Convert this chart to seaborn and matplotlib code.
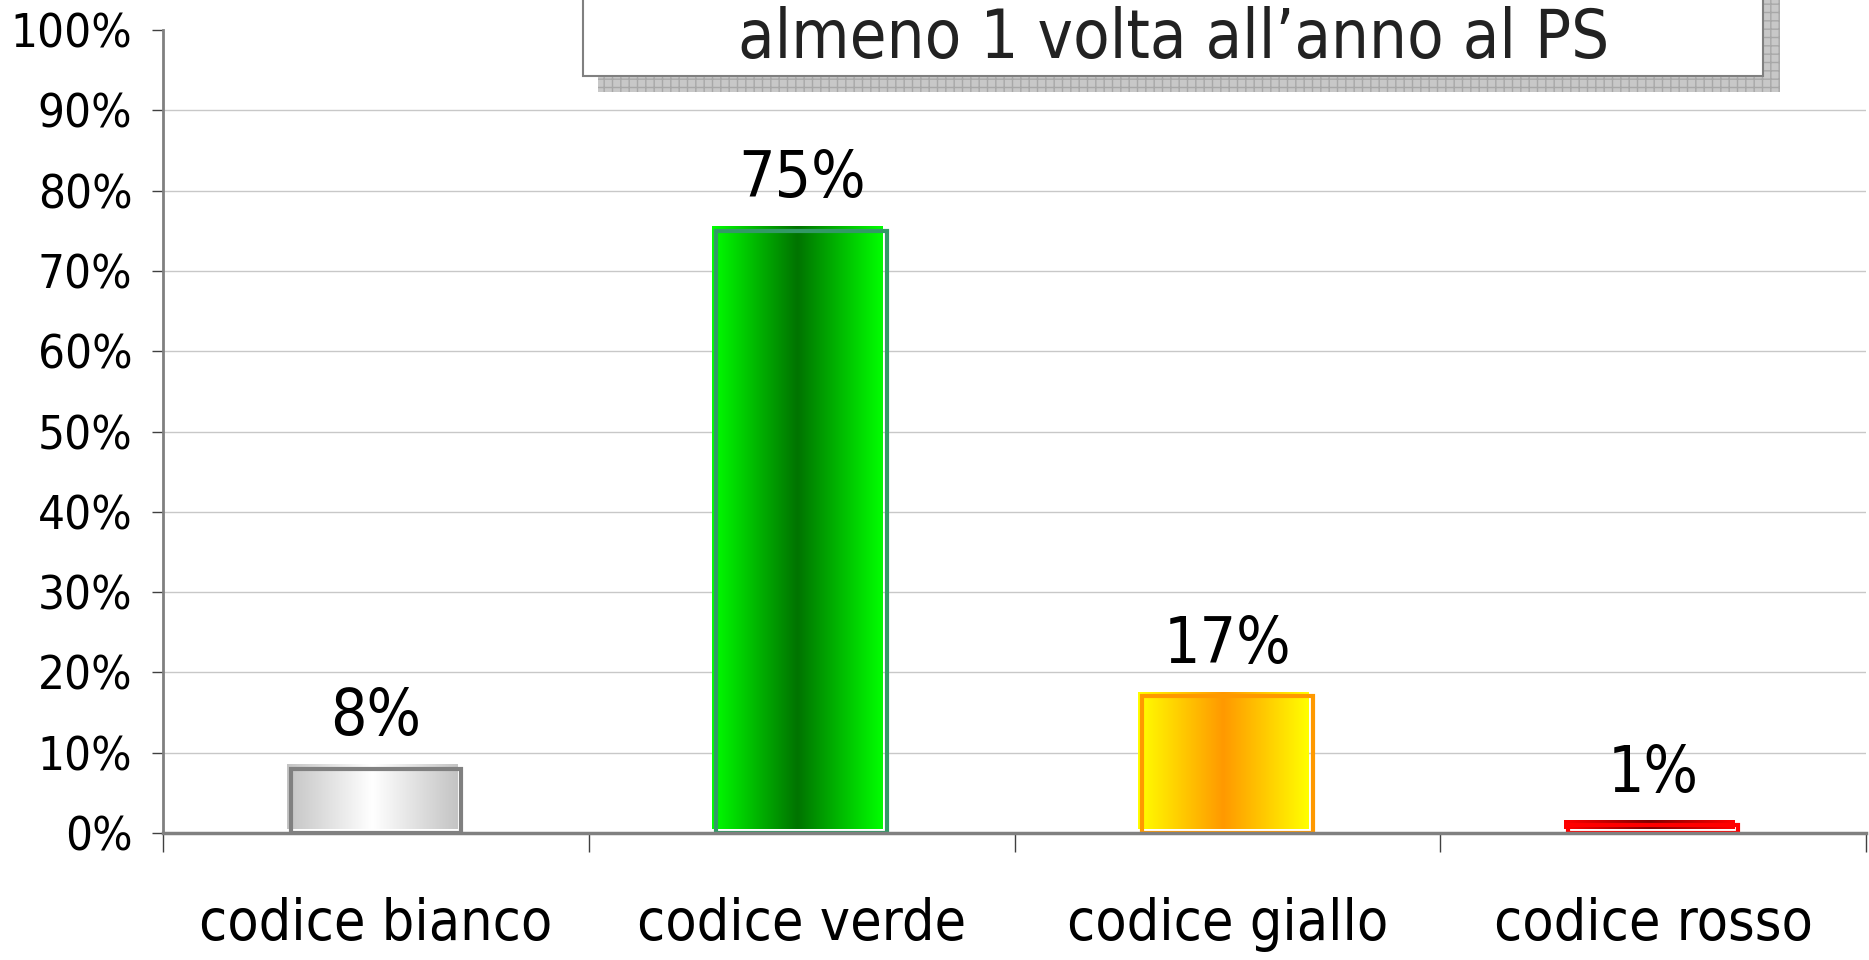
import numpy as np
import matplotlib
matplotlib.use("Agg")
import matplotlib.pyplot as plt
import matplotlib.transforms as mtransforms
from matplotlib.patches import Rectangle
from matplotlib.colors import LinearSegmentedColormap
from matplotlib.ticker import PercentFormatter, FixedLocator
import seaborn as sns

categories = ["codice bianco", "codice verde", "codice giallo", "codice rosso"]
values = [0.08, 0.75, 0.17, 0.01]
value_labels = ["8%", "75%", "17%", "1%"]
title_line = "almeno 1 volta all\u2019anno al PS"

# colori: bordo esterno, centro del gradiente, contorno
edge_colors = ["#c4c4c4", "#00ff00", "#ffff00", "#ff0000"]
center_colors = ["#ffffff", "#007400", "#ff9900", "#800000"]
outline_colors = ["#808080", "#339966", "#ff9900", "#ff0000"]

sns.set_style("white")
plt.rcParams["font.family"] = ["DejaVu Sans"]
plt.rcParams["font.stretch"] = "condensed"

fig = plt.figure(figsize=(18.69, 9.60), dpi=100)
ax = fig.add_axes([163 / 1869, 127 / 960, 1703 / 1869, 803 / 960])

sns.barplot(x=categories, y=values, hue=categories, palette=edge_colors,
            width=0.4, legend=False, ax=ax, saturation=1)

ax.set_ylim(0, 1)
ax.set_xlim(-0.5, len(categories) - 0.5)

# gradienti orizzontali dentro le barre (leggermente spostati in alto a sinistra)
shift = mtransforms.ScaledTranslation(-4 / 100, 4 / 100, fig.dpi_scale_trans)
grad = np.abs(np.linspace(-1, 1, 256))[None, :]
for patch, c_edge, c_mid, c_line in zip(ax.patches, edge_colors, center_colors, outline_colors):
    x0, w, h = patch.get_x(), patch.get_width(), patch.get_height()
    cmap = LinearSegmentedColormap.from_list("g", [c_mid, c_edge])
    im = ax.imshow(grad, cmap=cmap, aspect="auto", extent=(x0, x0 + w, 0, h),
                   interpolation="bicubic", zorder=2)
    im.set_transform(ax.transData + shift)
    patch.set_facecolor("none")
    patch.set_edgecolor(c_line)
    patch.set_linewidth(3)
    patch.set_zorder(3)

ax.set_xlim(-0.5, len(categories) - 0.5)
ax.set_ylim(0, 1)

for patch, lab in zip(ax.patches, value_labels):
    ax.annotate(lab, (patch.get_x() + patch.get_width() / 2, patch.get_height()),
                xytext=(0, 24), textcoords="offset points",
                ha="center", va="baseline", fontsize=46, color="black")

# assi
ax.yaxis.set_major_locator(FixedLocator(np.arange(0, 1.01, 0.1)))
ax.yaxis.set_major_formatter(PercentFormatter(1.0, decimals=0))
ax.tick_params(axis="y", labelsize=34, length=8, width=1, color="#404040",
               labelcolor="black", pad=14, left=True)
ax.set_xticks(range(len(categories)))
ax.set_xticklabels(categories)
ax.set_xticks(np.arange(-0.5, len(categories), 1.0), minor=True)
ax.tick_params(axis="x", which="major", length=0, labelsize=41, labelcolor="black", pad=46)
ax.tick_params(axis="x", which="minor", length=14, width=1, color="#404040", bottom=True)
ax.set_xlabel("")
ax.set_ylabel("")

ax.yaxis.grid(True, color="#c8c8c8", linewidth=1)
ax.get_ygridlines()[-1].set_visible(False)
ax.set_axisbelow(True)

for side in ["top", "right"]:
    ax.spines[side].set_visible(False)
ax.spines["left"].set_color("#808080")
ax.spines["left"].set_linewidth(2)
ax.spines["bottom"].set_color("#808080")
ax.spines["bottom"].set_linewidth(2.5)
ax.spines["bottom"].set_zorder(4)

# riquadro del titolo con ombra
shadow = Rectangle((598 / 1869, 1 - 92 / 960), 1182 / 1869, 0.2,
                   transform=fig.transFigure, facecolor="#c8c8c8",
                   edgecolor="#a8a8a8", hatch="++", linewidth=0, zorder=5)
box = Rectangle((583 / 1869, 1 - 76 / 960), 1180 / 1869, 0.2,
                transform=fig.transFigure, facecolor="white",
                edgecolor="#808080", linewidth=1.5, zorder=6)
fig.add_artist(shadow)
fig.add_artist(box)
fig.text(1174 / 1869, 1 - 58 / 960, title_line, ha="center", va="baseline",
         fontsize=48, color="#222222", zorder=7)

fig.savefig("out.png", dpi=100)
